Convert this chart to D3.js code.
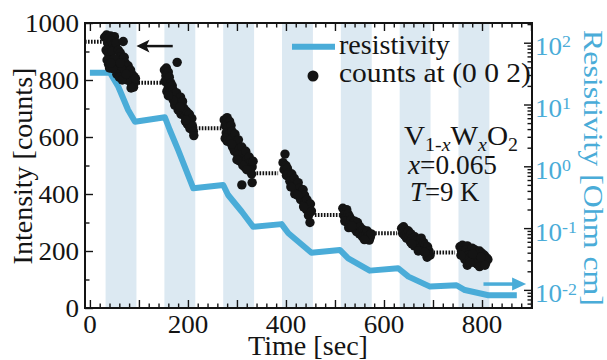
<!DOCTYPE html>
<html><head><meta charset="utf-8">
<script src="https://cdn.jsdelivr.net/npm/d3@7"></script>
<style>html,body{margin:0;padding:0;background:#fff;} svg{display:block;}</style>
</head><body><svg id="c" width="607" height="360"></svg>
<script>
// ---------------- data ----------------
const timeTicks = [0, 200, 400, 600, 800];
const countTicks = [0, 200, 400, 600, 800, 1000];
const resTickExp = [2, 1, 0, -1, -2];

const bandStart = [32, 152, 272, 392, 512, 632, 752];
const bandEnd   = [95, 215, 335, 455, 575, 695, 815];

const resTime  = [0, 41, 58, 78, 92, 153, 163, 180, 211, 272, 282, 310, 333, 391, 405, 452, 510, 527, 571, 629, 650, 694, 748, 765, 813, 871];
const resValue = [32.7, 32.7, 19.4, 8.15, 5.27, 6.21, 3.87, 1.84, 0.44, 0.498, 0.343, 0.184, 0.105, 0.116, 0.0824, 0.040, 0.0443, 0.0324, 0.0205, 0.0224, 0.0164, 0.0113, 0.0119, 0.00995, 0.00818, 0.00818];

const plateauStart = [-10, 99, 216, 340, 459, 582, 701];
const plateauEnd   = [24, 150, 269, 384, 510, 627, 745];
const plateauLevel = [934, 790, 631, 473, 326, 262, 195];

const dotTime = [
 30,34,38,42,46,50,36,40,44,48,52,33,37,41,35,38,40,45,54,68,58,62,60,65,70,67,72,75,78,73,80,83,86,78,82,88,90,85,91,89,76,70,64,56,50,93,84,55,60,66,47,43,62,74,
 152,156,160,155,158,153,162,165,160,157,163,168,170,166,172,178,174,177,180,176,182,185,183,188,190,186,192,194,197,195,200,203,199,205,208,204,209,211,212,189,173,180,170,160,196,184,
 274,280,285,276,282,278,288,284,276,280,290,293,287,296,298,291,300,295,303,305,308,302,310,312,315,306,318,320,322,316,325,328,331,326,333,330,310,331,312,300,289,320,
 398,394,400,396,403,406,401,409,412,408,414,417,420,416,422,425,428,426,431,433,435,430,438,440,437,443,445,442,447,449,450,446,452,449,418,410,424,436,
 516,520,524,518,522,527,530,525,520,533,536,530,540,538,543,546,548,544,551,554,550,557,560,556,563,566,565,569,572,570,574,528,535,560,
 636,640,644,638,642,647,650,646,652,655,658,654,660,663,666,662,668,670,673,676,674,678,681,684,680,686,689,692,690,694,688,670,657,683,
 755,760,765,770,758,763,768,775,780,785,772,778,790,795,800,788,793,805,810,798,803,808,812,783,790,765,770,775,757,795,806,781,798
];
const dotCount = [
 950,958,945,955,948,952,930,920,935,925,915,905,895,880,870,855,842,900,930,935,905,895,880,870,880,855,860,845,850,830,830,835,820,810,800,800,812,785,790,775,800,815,840,860,875,805,772,820,810,800,840,860,860,820,
 835,842,828,815,800,795,810,790,775,760,760,780,765,745,750,862,735,755,730,715,720,740,700,710,690,680,700,675,690,655,670,680,645,655,665,630,640,620,605,725,712,695,730,745,660,705,
 660,668,655,640,635,615,640,610,595,585,620,600,590,610,585,565,570,550,590,560,545,535,565,540,525,515,550,520,505,495,530,510,495,485,515,470,432,440,500,520,575,485,
 540,510,500,485,490,475,465,460,470,445,440,455,430,420,415,440,420,400,405,390,415,380,395,375,360,380,360,345,350,335,365,325,340,300,400,425,395,355,
 350,340,345,325,318,330,320,300,305,310,298,290,305,280,290,300,280,268,285,270,260,275,262,250,258,270,245,255,248,238,260,282,288,240,
 280,285,275,262,255,265,270,245,250,260,245,232,230,250,240,218,222,238,228,245,210,215,230,220,200,205,215,200,190,185,178,200,225,195,
 215,220,212,218,200,195,205,200,210,205,185,180,195,200,192,175,180,185,175,168,160,160,170,160,155,170,150,160,185,145,150,190,178
];

// ---------------- setup ----------------
const FONT = '"Liberation Serif","Times New Roman",Times,serif';
const BLUE = '#4aacd8';
const BAND = '#dce9f2';
const INK = '#141414';
const M = {l: 85, r: 532, t: 23, b: 308};

const svg = d3.select('#c');
const x = d3.scaleLinear().domain([-10, 902]).range([M.l, M.r]);
const y = d3.scaleLinear().domain([0, 1000]).range([M.b, M.t]);
const yr = d3.scaleLog().domain([Math.pow(10, -2.293), Math.pow(10, 2.319)]).range([M.b, M.t]);

function rich(parent, segs, opt) {
  const g = parent.append('g');
  const t = g.append('text').attr('font-family', FONT).attr('font-size', opt.size)
    .attr('fill', opt.color || INK).attr('text-anchor', opt.anchor || 'start');
  let shift = 0;
  segs.forEach(s => {
    const sp = t.append('tspan').text(s.t);
    let target = 0, fs = opt.size;
    if (s.sub) { target = opt.size * (opt.subShift || 0.25); fs = opt.size * (opt.subScale || 0.68); }
    if (s.sup) { target = -opt.size * (opt.supShift || 0.3); fs = opt.size * (opt.supScale || 0.66); }
    if (s.it) sp.attr('font-style', 'italic');
    if (fs !== opt.size) sp.attr('font-size', fs);
    const dy = target - shift;
    if (dy) sp.attr('dy', dy);
    shift = target;
  });
  let sx = opt.sx || 1;
  if (opt.width) { const w = t.node().getBBox().width; if (w > 0) sx = opt.width / w; }
  g.attr('transform', `translate(${opt.x},${opt.y}) rotate(${opt.rot || 0}) scale(${sx},1)`);
  return g;
}

svg.append('defs').append('clipPath').attr('id', 'clip')
  .append('rect').attr('x', M.l).attr('y', M.t).attr('width', M.r - M.l).attr('height', M.b - M.t);

const plot = svg.append('g').attr('clip-path', 'url(#clip)');

// bands
plot.selectAll('rect.band').data(bandStart).join('rect').attr('class', 'band')
  .attr('x', (d) => x(d)).attr('y', M.t)
  .attr('width', (d, i) => x(bandEnd[i]) - x(d)).attr('height', M.b - M.t)
  .attr('fill', BAND);

// plateau dotted lines
plot.selectAll('line.plat').data(plateauLevel).join('line').attr('class', 'plat')
  .attr('x1', (d, i) => x(plateauStart[i])).attr('x2', (d, i) => x(plateauEnd[i]))
  .attr('y1', d => y(d)).attr('y2', d => y(d))
  .attr('stroke', '#111').attr('stroke-width', 4).attr('stroke-dasharray', '1.6 1.4');

// resistivity line
plot.append('path').datum(resTime.map((t, i) => [t, resValue[i]]))
  .attr('d', d3.line().x(d => x(d[0])).y(d => yr(d[1])))
  .attr('fill', 'none').attr('stroke', BLUE).attr('stroke-width', 6).attr('stroke-linejoin', 'round');

// counts
plot.selectAll('circle.pt').data(dotTime).join('circle').attr('class', 'pt')
  .attr('cx', d => x(d)).attr('cy', (d, i) => y(dotCount[i])).attr('r', 4.7).attr('fill', INK);

// arrows
(function () {
  const tx = x(95), ty = y(919), bx = x(169);
  svg.append('line').attr('x1', tx + 9).attr('x2', bx).attr('y1', ty).attr('y2', ty)
    .attr('stroke', INK).attr('stroke-width', 2.5);
  svg.append('path').attr('d', `M${tx},${ty}L${tx + 13},${ty - 6.3}L${tx + 10},${ty}L${tx + 13},${ty + 6.3}Z`).attr('fill', INK);
  const ux = x(890), uy = y(84), sx0 = x(803);
  svg.append('line').attr('x1', sx0).attr('x2', ux - 12).attr('y1', uy).attr('y2', uy)
    .attr('stroke', BLUE).attr('stroke-width', 3.5);
  svg.append('path').attr('d', `M${ux},${uy}L${ux - 14},${uy - 6.5}L${ux - 14},${uy + 6.5}Z`).attr('fill', BLUE);
})();

// axes ticks
function tickAxis(axisFn, scale, vals, len, tx, ty) {
  const a = axisFn(scale).tickValues(vals).tickSizeInner(-len).tickSizeOuter(0).tickFormat('');
  const g = svg.append('g').attr('transform', `translate(${tx},${ty})`).call(a);
  g.select('.domain').remove();
  g.selectAll('line').attr('stroke', INK).attr('stroke-width', 1.4);
}
const xMinor = d3.range(0, 901, 20).filter(v => v % 100 !== 0);
const xMajor = d3.range(0, 901, 100);
tickAxis(d3.axisBottom, x, xMinor, 4.5, 0, M.b);
tickAxis(d3.axisBottom, x, xMajor, 8, 0, M.b);
tickAxis(d3.axisTop, x, xMinor, 4.5, 0, M.t);
tickAxis(d3.axisTop, x, xMajor, 8, 0, M.t);
tickAxis(d3.axisLeft, y, [100, 300, 500, 700, 900], 4.5, M.l, 0);
tickAxis(d3.axisLeft, y, countTicks, 8, M.l, 0);
const rMajor = resTickExp.map(e => Math.pow(10, e));
const rMinor = [];
[-3, -2, -1, 0, 1, 2].forEach(e => { for (let k = 2; k <= 9; k++) { const v = k * Math.pow(10, e); const d = yr.domain(); if (v > d[0] && v < d[1]) rMinor.push(v); } });
tickAxis(d3.axisRight, yr, rMinor, 4.5, M.r, 0);
tickAxis(d3.axisRight, yr, rMajor, 8, M.r, 0);

// frame
svg.append('rect').attr('x', M.l).attr('y', M.t).attr('width', M.r - M.l).attr('height', M.b - M.t)
  .attr('fill', 'none').attr('stroke', INK).attr('stroke-width', 2);

// tick labels
countTicks.forEach(v => rich(svg, [{t: String(v)}], {x: 79, y: y(v) + 8.5, size: 26, anchor: 'end', sx: 1.04}));
timeTicks.forEach(v => rich(svg, [{t: String(v)}], {x: x(v), y: 333, size: 26, anchor: 'middle', sx: 1.04}));
resTickExp.forEach(e => rich(svg, [{t: '10'}, {t: String(e), sup: true}],
  {x: 535, y: yr(Math.pow(10, e)) + 12.5, size: 26, sx: 1.04, color: BLUE, supShift: 0.3, supScale: 0.66}));

// axis titles
rich(svg, [{t: 'Intensity [counts]'}], {x: 32, y: 166, rot: -90, anchor: 'middle', size: 28});
rich(svg, [{t: 'Time [sec]'}], {x: 308, y: 355, anchor: 'middle', size: 28, width: 120});
rich(svg, [{t: 'Resistivity [Ohm cm]'}], {x: 584, y: 168, rot: 90, anchor: 'middle', size: 28, width: 276, color: BLUE});

// legend
svg.append('line').attr('x1', 292).attr('x2', 335).attr('y1', 46.7).attr('y2', 46.7)
  .attr('stroke', BLUE).attr('stroke-width', 6);
rich(svg, [{t: 'resistivity'}], {x: 339, y: 54, size: 28, width: 111});
svg.append('circle').attr('cx', 313).attr('cy', 76).attr('r', 5.5).attr('fill', INK);
rich(svg, [{t: 'counts at (0 0 2)'}], {x: 339, y: 82, size: 28, width: 192});

// annotation
rich(svg, [{t: 'V'}, {t: '1-', sub: true}, {t: 'x', sub: true, it: true}, {t: 'W'}, {t: 'x', sub: true, it: true}, {t: 'O'}, {t: '2', sub: true}],
  {x: 404, y: 145, size: 27, width: 114, subShift: 0.22});
rich(svg, [{t: 'x', it: true}, {t: '=0.065'}], {x: 408, y: 174, size: 27, width: 90});
rich(svg, [{t: 'T', it: true}, {t: '=9 K'}], {x: 410, y: 201, size: 27, width: 70});
</script></body></html>
